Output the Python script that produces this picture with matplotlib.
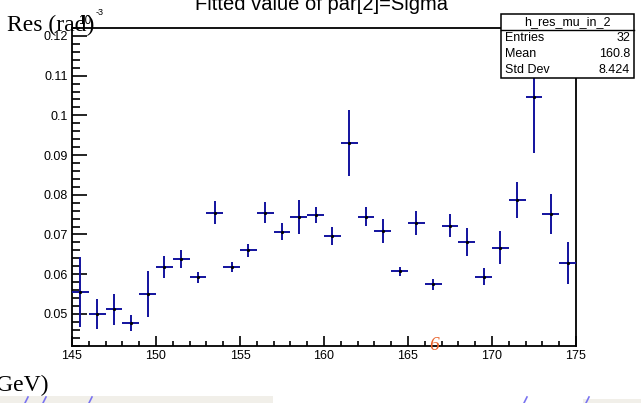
import matplotlib
matplotlib.use("Agg")
import matplotlib.pyplot as plt
from matplotlib.patches import Rectangle
from matplotlib.ticker import MultipleLocator
import numpy as np

# Fitted sigma per mass bin (bin width 1 GeV)
bin_centers = [145.5, 146.5, 147.5, 148.5, 149.5, 150.5, 151.5, 152.5, 153.5, 154.5,
               155.5, 156.5, 157.5, 158.5, 159.5, 160.5, 161.5, 162.5, 163.5, 164.5,
               165.5, 166.5, 167.5, 168.5, 169.5, 170.5, 171.5, 172.5, 173.5, 174.5]
sigma = [0.0555, 0.0500, 0.0512, 0.0477, 0.0550, 0.0618, 0.0638, 0.0592, 0.0755, 0.0618,
         0.0660, 0.0755, 0.0707, 0.0744, 0.0749, 0.0696, 0.0930, 0.0745, 0.0709, 0.0607,
         0.0729, 0.0574, 0.0722, 0.0680, 0.0594, 0.0667, 0.0787, 0.1045, 0.0752, 0.0628]
sigma_err = [0.0088, 0.0038, 0.0039, 0.0021, 0.0058, 0.0027, 0.0023, 0.0014, 0.0028, 0.0013,
             0.0016, 0.0026, 0.0021, 0.0042, 0.0019, 0.0022, 0.0084, 0.0024, 0.0030, 0.0012,
             0.0031, 0.0015, 0.0029, 0.0035, 0.0021, 0.0042, 0.0045, 0.0139, 0.0050, 0.0052]
bin_half_width = 0.5

x_ticks = [145, 150, 155, 160, 165, 170, 175]
y_ticks = [0.05, 0.06, 0.07, 0.08, 0.09, 0.10, 0.11, 0.12]
y_tick_labels = ["0.05", "0.06", "0.07", "0.08", "0.09", "0.1", "0.11", "0.12"]

stats_name = "h_res_mu_in_2"
stats_rows = [("Entries", "32"), ("Mean", "160.8"), ("Std Dev", "8.424")]
title = "Fitted value of par[2]=Sigma"

W, H = 641, 403
fig = plt.figure(figsize=(W / 100, H / 100), dpi=100)
fig.patch.set_facecolor("white")


def fx(px):
    return px / W


def fy(py):
    return 1 - py / H


sans = "Liberation Sans"
serif = "Liberation Serif"

ax = fig.add_axes([fx(72), fy(346), fx(576) - fx(72), fy(28) - fy(346)])
ax.errorbar(bin_centers, sigma, yerr=sigma_err, xerr=bin_half_width,
            fmt="none", ecolor="#12129e", elinewidth=1.4, capsize=0, zorder=3)
ax.plot(bin_centers, sigma, linestyle="none", marker="o", markersize=1.3,
        color="black", zorder=4)

ax.set_xlim(145, 175)
ax.set_ylim(0.0419, 0.1220)
ax.set_xticks(x_ticks)
ax.set_xticklabels([str(t) for t in x_ticks], fontsize=9, family=sans)
ax.set_yticks(y_ticks)
ax.set_yticklabels(y_tick_labels, fontsize=9, family=sans)
ax.xaxis.set_minor_locator(MultipleLocator(1))
ax.yaxis.set_minor_locator(MultipleLocator(0.002))
ax.tick_params(axis="x", which="major", direction="in", length=7.5, width=1.2, pad=3)
ax.tick_params(axis="x", which="minor", direction="in", length=3.8, width=1.2)
ax.tick_params(axis="y", which="major", direction="in", length=11, width=1.2, pad=3)
ax.tick_params(axis="y", which="minor", direction="in", length=5.5, width=1.2)
for s in ax.spines.values():
    s.set_linewidth(1.3)

# Title (partly outside the canvas)
fig.text(fx(322), fy(10), title, ha="center", va="baseline",
         fontsize=14.5, family=sans)

# Stats box
box_l, box_r, box_t, box_b = 501, 634, 14, 78
fig.patches.append(Rectangle((fx(box_l), fy(box_b)), fx(box_r) - fx(box_l), fy(box_t) - fy(box_b),
                             transform=fig.transFigure, facecolor="white",
                             edgecolor="black", linewidth=1.1, zorder=10))
fig.lines.append(plt.Line2D([fx(box_l), fx(box_r)], [fy(29.5), fy(29.5)],
                            transform=fig.transFigure, color="black", linewidth=1.0, zorder=11))
fig.text(fx((box_l + box_r) / 2), fy(22), stats_name, ha="center", va="center",
         fontsize=9, family=sans, zorder=12)
for i, (lab, val) in enumerate(stats_rows):
    yy = 38 + i * 16
    fig.text(fx(505), fy(yy), lab, ha="left", va="center", fontsize=9, family=sans, zorder=12)
    fig.text(fx(630), fy(yy), val, ha="right", va="center", fontsize=9, family=sans, zorder=12)

# Axis titles drawn with a serif face
fig.text(fx(7), fy(31), "Res (rad)", ha="left", va="baseline", fontsize=17, family=serif)
fig.text(fx(78), fy(24), "10", ha="left", va="baseline", fontsize=8.5, family=sans)
fig.text(fx(96), fy(15), "-3", ha="left", va="baseline", fontsize=6.5, family=sans)
fig.text(fx(-4), fy(391), "GeV)", ha="left", va="baseline", fontsize=17, family=serif)

# Small orange glyph near the x axis
fig.text(fx(434), fy(350), "6", ha="center", va="baseline", fontsize=14,
         family=serif, style="italic", color="#e8622a")

# Strip along the bottom edge
fig.patches.append(Rectangle((fx(0), fy(403)), fx(273), fy(396) - fy(403),
                             transform=fig.transFigure, facecolor="#f1efe9",
                             edgecolor="none", zorder=1))
fig.patches.append(Rectangle((fx(583), fy(403)), fx(641) - fx(583), fy(399) - fy(403),
                             transform=fig.transFigure, facecolor="#f1efe9",
                             edgecolor="none", zorder=1))
for x0 in [25, 43, 89, 524, 586]:
    fig.lines.append(plt.Line2D([fx(x0), fx(x0 + 3)], [fy(403), fy(397)],
                                transform=fig.transFigure, color="#7a74f0",
                                linewidth=1.2, zorder=2))

fig.savefig("out.png", dpi=100)
